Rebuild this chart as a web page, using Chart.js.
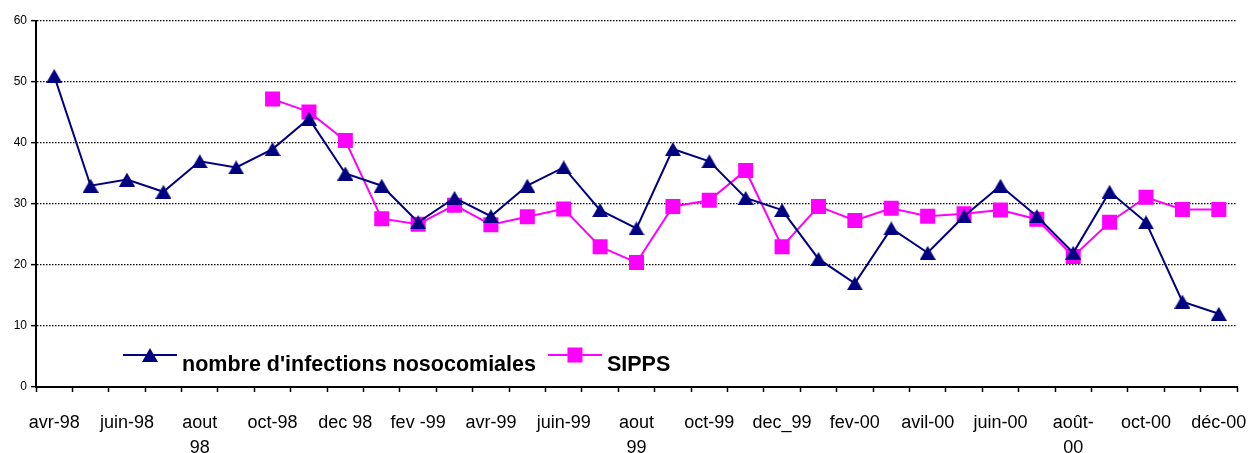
<!DOCTYPE html>
<html>
<head>
<meta charset="utf-8">
<script src="https://cdn.jsdelivr.net/npm/chart.js@4"></script>
<style>
  html, body { margin: 0; padding: 0; background: #fff; }
  #wrap { width: 1251px; height: 453px; }
</style>
</head>
<body>
<div id="wrap"><canvas id="c" width="1251" height="453"></canvas></div>
<script>
// ---- data ----
const categories = [
  "avr-98","mai-98","juin-98","juil-98","aout 98","sept-98","oct-98","nov-98","dec 98",
  "janv-99","fev -99","mars-99","avr-99","mai-99","juin-99","juil-99","aout 99","sept-99",
  "oct-99","nov-99","dec_99","janv-00","fev-00","mars-00","avil-00","mai-00","juin-00",
  "juil-00","août-00","sept-00","oct-00","nov-00","déc-00"
];
const tickLabels = [
  "avr-98","juin-98",["aout","98"],"oct-98","dec 98","fev -99","avr-99","juin-99",
  ["aout","99"],"oct-99","dec_99","fev-00","avil-00","juin-00",["août-","00"],"oct-00","déc-00"
];
const infections = [51,33,34,32,37,36,39,44,35,33,27,31,28,33,36,29,26,39,37,31,29,21,17,26,22,28,33,28,22,32,27,14,12];
const sipps = [null,null,null,null,null,null,
  47.2,45.1,40.4,27.6,26.7,29.8,26.6,27.9,29.2,23.0,20.4,29.6,30.6,35.5,23.0,29.6,27.3,29.3,28.0,28.4,29.0,27.5,21.4,27.0,31.1,29.1,29.1];
const seriesNames = ["nombre d'infections nosocomiales","SIPPS"];
const yTicks = { min: 0, max: 60, step: 10 };

const NAVY = '#000080', PINK = '#FF00FF';

// triangle marker image (centred on its bounding box)
function makeTriangle(w, h, color) {
  const c = document.createElement('canvas');
  c.width = w; c.height = h;
  const g = c.getContext('2d');
  g.fillStyle = color;
  g.beginPath();
  g.moveTo(w / 2, 0); g.lineTo(w, h); g.lineTo(0, h);
  g.closePath(); g.fill();
  return c;
}
const triMarker = makeTriangle(16, 14, NAVY);

const legendPlugin = {
  id: 'inLegend',
  afterDatasetsDraw(chart) {
    const ctx = chart.ctx;
    const ds = chart.data.datasets;
    ctx.save();
    ctx.font = 'bold 21.5px "Liberation Sans", Arial, sans-serif';
    ctx.textBaseline = 'alphabetic';
    ctx.textAlign = 'left';
    let x = 123;
    const yLine = 355, yText = 371;
    ds.forEach((d) => {
      ctx.strokeStyle = d.borderColor;
      ctx.lineWidth = 2;
      ctx.beginPath(); ctx.moveTo(x, yLine); ctx.lineTo(x + 54, yLine); ctx.stroke();
      const cx = x + 27;
      if (d.pointStyle instanceof HTMLCanvasElement) {
        const im = d.pointStyle;
        ctx.drawImage(im, Math.round(cx - im.width / 2), Math.round(yLine - im.height / 2));
      } else {
        ctx.fillStyle = d.pointBackgroundColor;
        ctx.fillRect(cx - 7.5, yLine - 7.5, 15, 15);
      }
      ctx.fillStyle = '#000';
      ctx.fillText(d.label, x + 59, yText);
      x = x + 59 + ctx.measureText(d.label).width + 12;
    });
    ctx.restore();
  }
};

new Chart(document.getElementById('c'), {
  type: 'line',
  data: {
    labels: categories,
    datasets: [
      {
        label: seriesNames[0], data: infections,
        borderColor: NAVY, backgroundColor: NAVY, borderWidth: 2,
        pointStyle: triMarker, pointRadius: 8, pointHoverRadius: 8,
        pointBackgroundColor: NAVY, pointBorderColor: NAVY, pointBorderWidth: 0,
        tension: 0, fill: false
      },
      {
        label: seriesNames[1], data: sipps,
        borderColor: PINK, backgroundColor: PINK, borderWidth: 2,
        pointStyle: 'rect', pointRadius: 10.6, pointHoverRadius: 10.6,
        pointBackgroundColor: PINK, pointBorderColor: PINK, pointBorderWidth: 0,
        tension: 0, fill: false, spanGaps: false
      }
    ]
  },
  options: {
    responsive: false,
    animation: false,
    devicePixelRatio: 1,
    layout: { padding: { left: 0, right: 14, top: 21, bottom: 0 } },
    plugins: { legend: { display: false }, tooltip: { enabled: false } },
    scales: {
      x: {
        type: 'category',
        offset: true,
        grid: { offset: true, drawOnChartArea: false, drawTicks: true, tickLength: 5, tickColor: '#000', tickWidth: 1.5 },
        border: { display: true, color: '#000', width: 2 },
        ticks: {
          autoSkip: false, maxRotation: 0, minRotation: 0, padding: 19, color: '#000',
          font: { family: '"Liberation Sans", Arial, sans-serif', size: 18, lineHeight: 25/18 },
          callback: (v, i) => (i % 2 === 0 ? tickLabels[i / 2] : '')
        },
        afterFit(s) { s.height = 66; s.paddingLeft = 0; s.paddingRight = 0; }
      },
      y: {
        min: yTicks.min, max: yTicks.max,
        grid: { color: '#000', lineWidth: 1.3, tickLength: 5, tickColor: '#000', tickWidth: 1.5, tickBorderDash: [] },
        border: { display: true, color: '#000', width: 2, dash: [1.5, 1.5] },
        ticks: {
          stepSize: yTicks.step, padding: 4, color: '#000',
          font: { family: '"Liberation Sans", Arial, sans-serif', size: 12 }
        },
        afterFit(s) { s.width = 36; }
      }
    }
  },
  plugins: [legendPlugin]
});
</script>
</body>
</html>
